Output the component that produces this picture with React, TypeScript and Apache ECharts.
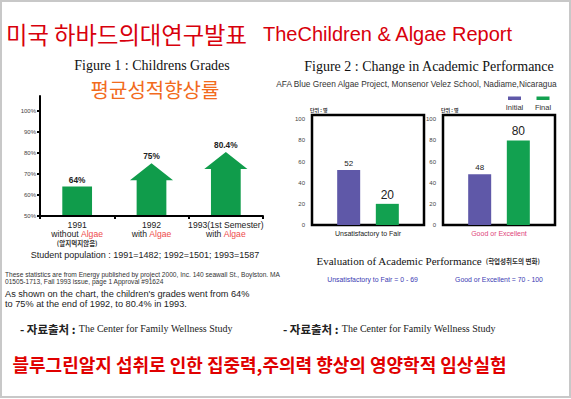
import React, { useEffect, useRef } from "react";
import * as echarts from "echarts";

// ---- Figure 1 data ----
const fig1Years = ["1991", "1992", "1993(1st Semester)"];
const fig1Condition = ["without", "with", "with"];
const fig1Note = ["(알지먹지않음)", "", ""];
const fig1Values = [64, 75, 80.4];
const fig1TickValues = [50, 60, 70, 80, 90, 100];

// ---- Figure 2 data ----
const fig2Groups = ["Unsatisfactory to Fair", "Good or Excellent"];
const fig2SeriesNames = ["Initial", "Final"];
const initialValues = [52, 48];
const finalValues = [20, 80];
const fig2TickValues = [0, 20, 40, 60, 80, 100];

const SANS = "Liberation Sans, Arial, sans-serif";
const SERIF = "Liberation Serif, Times New Roman, serif";
const KR = "Noto Sans CJK KR, sans-serif";
const RED = "#d8000c";
const GREEN1 = "#109c4b";
const PURPLE = "#5f58a8";
const GREEN2 = "#12a150";

export default function App() {
  const ref = useRef<HTMLDivElement>(null);
  useEffect(() => {
    document.body.style.margin = "0";
    const chart = echarts.init(ref.current!, null, { renderer: "svg" });

    const fig2Grid = (left: number) => ({
      left,
      top: 115,
      width: 112,
      height: 110,
      show: true,
      borderColor: "#000",
      borderWidth: 2.5,
      backgroundColor: "transparent",
    });

    const fig2YAxis = (gridIndex: number) => ({
      type: "value",
      gridIndex,
      min: 0,
      max: 104,
      interval: 20,
      axisLine: { show: false },
      axisTick: { show: false },
      splitLine: { show: false },
      axisLabel: {
        fontSize: 6,
        color: "#444",
        fontFamily: SANS,
        margin: 7,
        formatter: (v: number) => (fig2TickValues.includes(v) ? String(v) : ""),
      },
    });

    const fig2XAxis = (gridIndex: number, i: number, color: string) => ({
      type: "category",
      gridIndex,
      data: [fig2Groups[i]],
      axisLine: { show: false },
      axisTick: { show: false },
      axisLabel: { fontSize: 7, color, fontFamily: SANS, margin: 5 },
    });

    const barSeries = (name: string, axis: number, value: number, color: string, fs: number) => ({
      type: "bar",
      name,
      xAxisIndex: axis,
      yAxisIndex: axis,
      data: [value],
      barWidth: 23,
      barGap: "68%",
      itemStyle: { color },
      label: {
        show: true,
        position: "top",
        distance: 3,
        fontSize: fs,
        color: "#222",
        fontFamily: SANS,
      },
    });

    const legendItem = (cx: number, name: string, color: string) => [
      { type: "rect", shape: { x: cx - 6.5, y: 96.5, width: 13, height: 3.5 }, style: { fill: color } },
      {
        type: "text",
        x: cx,
        y: 107.3,
        style: { text: name, fontSize: 7.5, fontFamily: SANS, fill: "#333", align: "center", verticalAlign: "middle" },
      },
    ];

    const txt = (x: number, y: number, text: string, s: any) => ({
      type: "text",
      x,
      y,
      style: { text, verticalAlign: "middle", align: "left", ...s },
    });

    const sourceRich = {
      b: { fontSize: 11.5, fontWeight: "bold", fontFamily: KR, fill: "#222" },
      s: { fontSize: 10, fontFamily: SERIF, fill: "#222" },
    };

    const option: any = {
      animation: false,
      backgroundColor: "#fff",
      grid: [
        { left: 40, top: 96, width: 223, height: 120 },
        fig2Grid(312),
        fig2Grid(443),
      ],
      xAxis: [
        {
          type: "category",
          gridIndex: 0,
          data: fig1Years,
          axisLine: { lineStyle: { color: "#000", width: 2 } },
          axisTick: { show: true, length: 3, lineStyle: { color: "#000", width: 2 } },
          axisLabel: {
            margin: 4.5,
            interval: 0,
            formatter: (v: string, i: number) => {
              let s = `{y|${v}}\n{t|${fig1Condition[i]} }{r|Algae}`;
              if (fig1Note[i]) s += `\n{k|${fig1Note[i]}}`;
              return s;
            },
            rich: {
              y: { fontSize: 8.6, lineHeight: 9, color: "#222", fontFamily: SANS },
              t: { fontSize: 8.6, lineHeight: 9, color: "#222", fontFamily: SANS },
              r: { fontSize: 8.6, lineHeight: 9, color: "#ee4b4b", fontFamily: SANS },
              k: { fontSize: 6.5, lineHeight: 8, color: "#333", fontWeight: "bold", fontFamily: KR },
            },
          },
        },
        fig2XAxis(1, 0, "#222"),
        fig2XAxis(2, 1, "#e0457b"),
      ],
      yAxis: [
        {
          type: "value",
          gridIndex: 0,
          min: 50,
          max: 107,
          interval: 10,
          axisLine: { show: true, onZero: false, lineStyle: { color: "#000", width: 2 } },
          axisTick: {
            show: true,
            length: 3,
            lineStyle: { color: "#000", width: 2 },
            customValues: fig1TickValues,
          },
          splitLine: { show: false },
          axisLabel: {
            fontSize: 6,
            color: "#444",
            fontFamily: SANS,
            margin: 4,
            customValues: fig1TickValues,
            formatter: (v: number) => (fig1TickValues.includes(v) ? v + "%" : ""),
          },
        },
        fig2YAxis(1),
        fig2YAxis(2),
      ],
      series: [
        {
          type: "custom",
          xAxisIndex: 0,
          yAxisIndex: 0,
          data: fig1Values.map((v, i) => [i, v]),
          renderItem: (params: any, api: any) => {
            const idx = api.value(0);
            const v = api.value(1);
            const top = api.coord([idx, v]);
            const base = api.coord([idx, 50]);
            const band = api.size([1, 0])[0];
            const sw = band * 0.4;
            const hw = band * 0.58;
            const hh = 17;
            const cx = top[0];
            const label = {
              type: "text",
              x: cx,
              y: top[1] - 7,
              style: {
                text: v + "%",
                fontSize: 8.3,
                fontWeight: "bold",
                fontFamily: SANS,
                fill: "#222",
                align: "center",
                verticalAlign: "middle",
              },
            };
            const shape =
              idx === 0
                ? {
                    type: "rect",
                    shape: { x: cx - sw / 2, y: top[1], width: sw, height: base[1] - top[1] - 1 },
                    style: { fill: GREEN1 },
                  }
                : {
                    type: "polygon",
                    shape: {
                      points: [
                        [cx, top[1]],
                        [cx + hw / 2, top[1] + hh],
                        [cx + sw / 2, top[1] + hh],
                        [cx + sw / 2, base[1] - 1],
                        [cx - sw / 2, base[1] - 1],
                        [cx - sw / 2, top[1] + hh],
                        [cx - hw / 2, top[1] + hh],
                      ],
                    },
                    style: { fill: GREEN1 },
                  };
            return { type: "group", children: [shape, label] };
          },
        },
        barSeries(fig2SeriesNames[0], 1, initialValues[0], PURPLE, 8),
        barSeries(fig2SeriesNames[1], 1, finalValues[0], GREEN2, 12),
        barSeries(fig2SeriesNames[0], 2, initialValues[1], PURPLE, 8),
        barSeries(fig2SeriesNames[1], 2, finalValues[1], GREEN2, 12),
      ],
      graphic: [
        { type: "rect", shape: { x: 1, y: 1, width: 569, height: 396 }, style: { fill: "none", stroke: "#c8c8c8", lineWidth: 2 } },
        txt(6, 33.5, "미국 하바드의대연구발표", { fontSize: 23.3, lineHeight: 24, fontFamily: KR, fill: RED }),
        txt(263, 33.5, "TheChildren & Algae Report", { fontSize: 20, lineHeight: 22, fontFamily: SANS, fill: RED }),
        txt(152, 65, "Figure 1 : Childrens Grades", { fontSize: 14, lineHeight: 14, fontFamily: SERIF, fill: "#111", align: "center" }),
        txt(155, 89, "평균성적향상률", { fontSize: 20, lineHeight: 20, fontFamily: KR, fill: "#f26b1d", align: "center" }),
        txt(429, 66.7, "Figure 2 : Change in Academic Performance", { fontSize: 14, lineHeight: 14, fontFamily: SERIF, fill: "#111", align: "center" }),
        txt(416.5, 84.3, "AFA Blue Green Algae Project, Monsenor Velez School, Nadiame,Nicaragua", {
          fontSize: 8.3,
          fontFamily: SANS,
          fill: "#333",
          align: "center",
        }),
        txt(310, 109.5, "단위 : 명", { fontSize: 5, fontFamily: KR, fontWeight: "bold", fill: "#333" }),
        txt(441, 109.5, "단위 : 명", { fontSize: 5, fontFamily: KR, fontWeight: "bold", fill: "#333" }),
        ...legendItem(514.5, fig2SeriesNames[0], PURPLE),
        ...legendItem(543, fig2SeriesNames[1], GREEN2),
        txt(145, 255, "Student population : 1991=1482; 1992=1501; 1993=1587", {
          fontSize: 9,
          fontFamily: SANS,
          fill: "#222",
          align: "center",
        }),
        txt(5, 274, "These statistics are from Energy published by project 2000, Inc. 140 seawall St., Boylston. MA", {
          fontSize: 6.6,
          fontFamily: SANS,
          fill: "#333",
        }),
        txt(5, 281.3, "01505-1713, Fall 1993 issue, page 1 Approval #91624", { fontSize: 6.6, fontFamily: SANS, fill: "#333" }),
        txt(5, 294, "As shown on the chart, the children's grades went from 64%", { fontSize: 9.2, fontFamily: SANS, fill: "#222" }),
        txt(5, 303.5, "to 75% at the end of 1992, to 80.4% in 1993.", { fontSize: 9.2, fontFamily: SANS, fill: "#222" }),
        txt(20, 328.5, "{b|- 자료출처 :} {s|The Center for Family Wellness Study}", { rich: sourceRich }),
        txt(283, 328.5, "{b|- 자료출처 :} {s|The Center for Family Wellness Study}", { rich: sourceRich }),
        txt(316.5, 261, "{m|Evaluation of Academic Performance} {k|(학업성취도의 변화)}", {
          rich: {
            m: { fontSize: 11, fontFamily: SERIF, fill: "#111" },
            k: { fontSize: 6.5, fontFamily: KR, fontWeight: "bold", fill: "#333" },
          },
        }),
        txt(372.5, 279.3, "Unsatisfactory to Fair = 0 - 69", { fontSize: 6.9, fontFamily: SANS, fill: "#3b3bb3", align: "center" }),
        txt(499, 279.3, "Good or Excellent = 70 - 100", { fontSize: 6.9, fontFamily: SANS, fill: "#3b3bb3", align: "center" }),
        txt(12.5, 363.5, "블루그린알지 섭취로 인한 집중력,주의력 향상의 영양학적 임상실험", {
          fontSize: 18,
          fontWeight: "bold",
          fontFamily: KR,
          fill: "#e00000",
        }),
      ],
    };
    chart.setOption(option);
    return () => chart.dispose();
  }, []);
  return <div ref={ref} style={{ width: 571, height: 399 }} />;
}
